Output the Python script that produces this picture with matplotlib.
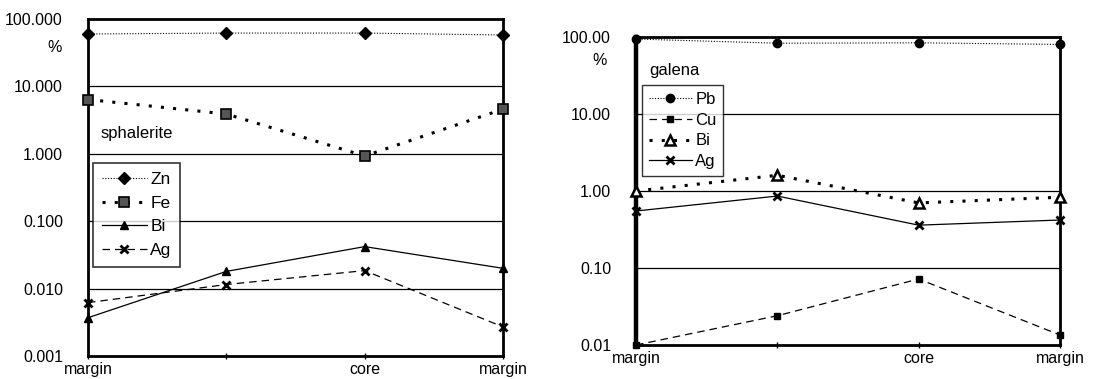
import matplotlib
matplotlib.use("Agg")
import matplotlib.pyplot as plt
from matplotlib.ticker import FixedLocator, NullLocator

plt.rcParams['font.family'] = ['Liberation Sans', 'DejaVu Sans']

positions = ["margin", "", "core", "margin"]

# sphalerite (%)
sph_Zn = [60, 62, 62, 58]
sph_Fe = [6.4, 3.9, 0.93, 4.6]
sph_Bi = [0.0037, 0.018, 0.042, 0.020]
sph_Ag = [0.0062, 0.0115, 0.0185, 0.0027]
sph_ticks = [0.001, 0.01, 0.1, 1, 10, 100]
sph_ticklabels = ["0.001", "0.010", "0.100", "1.000", "10.000", "100.000"]

# galena (%)
gal_Pb = [94, 83, 84, 80]
gal_Cu = [0.010, 0.024, 0.072, 0.0135]
gal_Bi = [1.0, 1.6, 0.70, 0.83]
gal_Ag = [0.55, 0.86, 0.36, 0.42]
gal_ticks = [0.01, 0.1, 1, 10, 100]
gal_ticklabels = ["0.01", "0.10", "1.00", "10.00", "100.00"]

fig = plt.figure(figsize=(11.01, 3.79), dpi=100)
ax1 = fig.add_axes([0.0799, 0.0607, 0.377, 0.889])
ax2 = fig.add_axes([0.5777, 0.0897, 0.385, 0.8127])

x = list(range(len(positions)))

def style_axes(ax, ticks, labels, ylim):
    ax.set_yscale('log')
    ax.set_ylim(*ylim)
    ax.set_xlim(0, 3)
    ax.yaxis.set_major_locator(FixedLocator(ticks))
    ax.yaxis.set_minor_locator(NullLocator())
    ax.set_yticklabels(labels)
    ax.set_xticks(x)
    ax.set_xticklabels(positions)
    for t in ticks[1:-1]:
        ax.axhline(t, color='black', lw=0.9, zorder=1)
    for s in ax.spines.values():
        s.set_linewidth(2.0)
    ax.tick_params(axis='y', length=0, labelsize=11.5, pad=18)
    ax.tick_params(axis='x', length=4, direction='inout', width=1, labelsize=11.5, pad=2)

k = dict(color='black', clip_on=False, zorder=3)

style_axes(ax1, sph_ticks, sph_ticklabels, (0.001, 100))
ax1.plot(x, sph_Zn, linestyle=(0, (1, 1.5)), lw=0.8, marker='D', ms=6.5, label='Zn', **k)
ax1.plot(x, sph_Fe, linestyle=(0, (1, 3)), lw=2.2, marker='s', ms=7, mfc='#555555', mec='black', mew=1.2, label='Fe', **k)
ax1.plot(x, sph_Bi, linestyle='-', lw=0.9, marker='^', ms=5.5, label='Bi', **k)
ax1.plot(x, sph_Ag, linestyle=(0, (6, 4)), lw=0.9, marker='x', ms=5.5, mew=2, label='Ag', **k)
leg1 = ax1.legend(loc='upper left', bbox_to_anchor=(0.012, 0.573), borderaxespad=0,
                  frameon=True, fancybox=False,
                  edgecolor='black', fontsize=12.5, handlelength=2.6, handletextpad=0.2,
                  borderpad=0.5, labelspacing=0.5)
leg1.get_frame().set_linewidth(1.2)
ax1.text(0.03, 0.66, "sphalerite", transform=ax1.transAxes, fontsize=12, ha='left', va='center')
ax1.text(-0.08, 0.915, "%", transform=ax1.transAxes, fontsize=11.5, ha='center', va='center')

style_axes(ax2, gal_ticks, gal_ticklabels, (0.01, 100))
ax2.spines['left'].set_linewidth(3.2)
ax2.plot(x, gal_Pb, linestyle=(0, (1, 1.5)), lw=0.8, marker='o', ms=6, label='Pb', **k)
ax2.plot(x, gal_Cu, linestyle=(0, (6, 4)), lw=0.9, marker='s', ms=5, label='Cu', **k)
ax2.plot(x, gal_Bi, linestyle=(0, (1, 3)), lw=2.2, marker='^', ms=7, mfc='white', mec='black', mew=1.8, label='Bi', **k)
ax2.plot(x, gal_Ag, linestyle='-', lw=0.9, marker='x', ms=5.5, mew=2, label='Ag', **k)
leg2 = ax2.legend(loc='upper left', bbox_to_anchor=(0.014, 0.844), borderaxespad=0,
                  frameon=True, fancybox=False,
                  edgecolor='black', fontsize=12, handlelength=2.6, handletextpad=0.2,
                  borderpad=0.4, labelspacing=0.35)
leg2.get_frame().set_linewidth(1.0)
ax2.text(0.03, 0.89, "galena", transform=ax2.transAxes, fontsize=12, ha='left', va='center')
ax2.text(-0.085, 0.925, "%", transform=ax2.transAxes, fontsize=11.5, ha='center', va='center')

fig.savefig("out.png", dpi=100)
